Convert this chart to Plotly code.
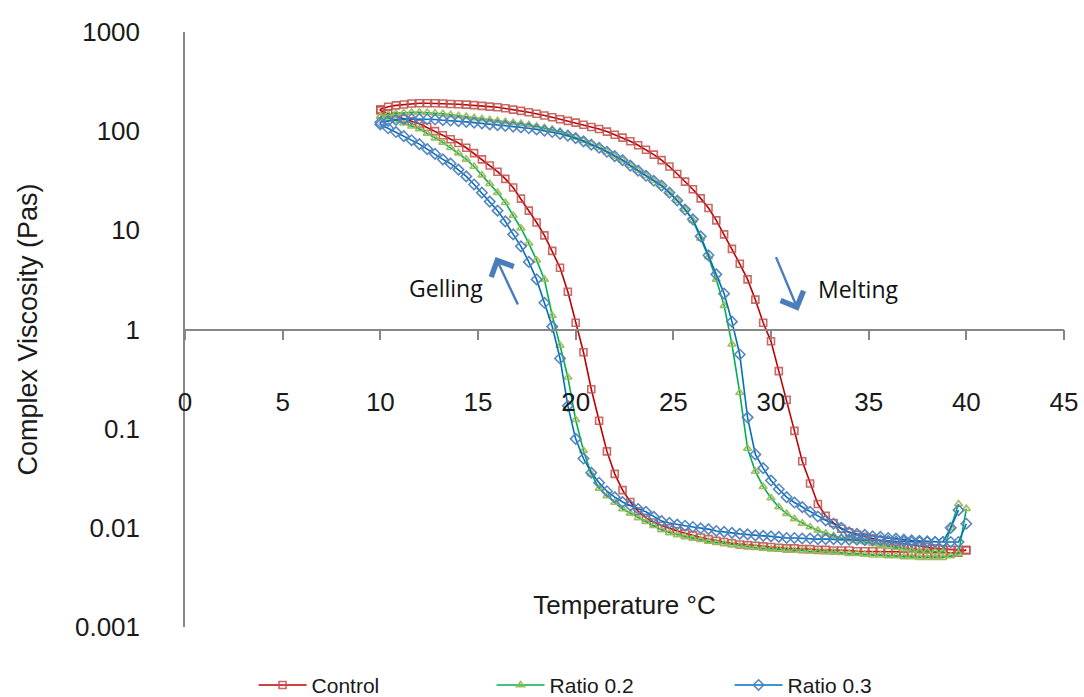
import plotly.graph_objects as go

# Temperature grid of the rheometer sweep (°C): heating ramp and cooling ramp
T_UP = [10.0, 10.4, 10.8, 11.2, 11.6, 12.0, 12.4, 12.8, 13.2, 13.6, 14.0, 14.4, 14.8, 15.2, 15.6,
        16.0, 16.4, 16.8, 17.2, 17.6, 18.0, 18.4, 18.8, 19.2, 19.6, 20.0, 20.4, 20.8, 21.2, 21.6,
        22.0, 22.4, 22.8, 23.2, 23.6, 24.0, 24.4, 24.8, 25.2, 25.6, 26.0, 26.4, 26.8, 27.2, 27.6,
        28.0, 28.4, 28.8, 29.2, 29.6, 30.0, 30.4, 30.8, 31.2, 31.6, 32.0, 32.4, 32.8, 33.2, 33.6,
        34.0, 34.4, 34.8, 35.2, 35.6, 36.0, 36.4, 36.8, 37.2, 37.6, 38.0, 38.4, 38.8, 39.2, 39.6,
        40.0]
T_DOWN = [40.0, 39.6, 39.2, 38.8, 38.4, 38.0, 37.6, 37.2, 36.8, 36.4, 36.0, 35.6, 35.2, 34.8, 34.4,
          34.0, 33.6, 33.2, 32.8, 32.4, 32.0, 31.6, 31.2, 30.8, 30.4, 30.0, 29.6, 29.2, 28.8, 28.4,
          28.0, 27.6, 27.2, 26.8, 26.4, 26.0, 25.6, 25.2, 24.8, 24.4, 24.0, 23.6, 23.2, 22.8, 22.4,
          22.0, 21.6, 21.2, 20.8, 20.4, 20.0, 19.6, 19.2, 18.8, 18.4, 18.0, 17.6, 17.2, 16.8, 16.4,
          16.0, 15.6, 15.2, 14.8, 14.4, 14.0, 13.6, 13.2, 12.8, 12.4, 12.0, 11.6, 11.2, 10.8, 10.4,
          10.0]

# Complex viscosity (Pa·s) on cooling (gelling) and heating (melting)
CONTROL_COOL = [0.0060, 0.0056, 0.0056, 0.0056, 0.0056, 0.0056, 0.0056, 0.0057, 0.0057, 0.0057,
                0.0057, 0.0058, 0.0058, 0.0058, 0.0058, 0.0059, 0.0059, 0.0059, 0.0060, 0.0060,
                0.0061, 0.0061, 0.0062, 0.0062, 0.0063, 0.0064, 0.0065, 0.0066, 0.0067, 0.0068,
                0.0070, 0.0072, 0.0074, 0.0077, 0.0080, 0.0084, 0.0088, 0.0093, 0.0099, 0.0105,
                0.0113, 0.0126, 0.0147, 0.0182, 0.024, 0.035, 0.059, 0.12, 0.25, 0.59,
                1.17, 2.4, 4.2, 6.2, 8.9, 12.0, 15.8, 20.9, 27, 33,
                39, 45, 52, 60, 68, 76, 83, 91, 100, 110,
                119, 126, 133, 141, 151, 162]
CONTROL_HEAT = [166, 176, 182, 186, 190, 191, 191, 191, 190, 188,
                187, 185, 183, 180, 177, 174, 170, 165, 160, 155,
                150, 144, 138, 132, 127, 122, 116, 110, 105, 99,
                92, 86, 79, 72, 65, 58, 51, 44, 37, 31,
                26, 21, 16.8, 12.6, 9.1, 6.5, 4.6, 3.2, 2.0, 1.17,
                0.76, 0.38, 0.195, 0.095, 0.047, 0.028, 0.0174, 0.0132, 0.0112, 0.0098,
                0.0090, 0.0085, 0.0081, 0.0078, 0.0075, 0.0072, 0.0071, 0.0069, 0.0067, 0.0065,
                0.0064, 0.0062, 0.0061, 0.0060, 0.0060, 0.0059]

RATIO02_COOL = [0.0156, 0.0055, 0.0052, 0.0050, 0.0050, 0.0050, 0.0050, 0.0051, 0.0051, 0.0052,
                0.0052, 0.0053, 0.0053, 0.0054, 0.0055, 0.0055, 0.0056, 0.0057, 0.0057, 0.0058,
                0.0058, 0.0059, 0.0059, 0.0060, 0.0061, 0.0061, 0.0062, 0.0063, 0.0064, 0.0066,
                0.0068, 0.0069, 0.0071, 0.0073, 0.0076, 0.0078, 0.0081, 0.0085, 0.0089, 0.0095,
                0.0105, 0.0115, 0.0126, 0.0140, 0.0155, 0.0180, 0.021, 0.025, 0.035, 0.060,
                0.123, 0.33, 0.69, 1.38, 3.2, 5.0, 7.4, 10.5, 14.1, 19,
                24, 29.5, 36, 44, 52, 60, 68, 77, 85, 95,
                105, 112, 120, 129, 135, 141]
RATIO02_HEAT = [141, 148, 151, 153, 155, 155, 154, 152, 150, 146,
                143, 140, 136, 133, 130, 127, 124, 122, 119, 116,
                112, 108, 104, 99, 93, 87, 80, 74, 68, 62,
                56, 51, 45, 40, 35.5, 31.6, 28.2, 24, 20, 16.2,
                12.6, 8.3, 5.4, 3.2, 1.74, 0.71, 0.23, 0.063, 0.037, 0.026,
                0.020, 0.0162, 0.0139, 0.0123, 0.0111, 0.0102, 0.0094, 0.0088, 0.0083, 0.0079,
                0.0077, 0.0074, 0.0072, 0.0069, 0.0067, 0.0065, 0.0063, 0.0061, 0.0059, 0.0058,
                0.0058, 0.0057, 0.0057, 0.010, 0.0174]

RATIO03_COOL = [0.0110, 0.0072, 0.0072, 0.0072, 0.0072, 0.0072, 0.0072, 0.0072, 0.0073, 0.0073,
                0.0074, 0.0075, 0.0075, 0.0075, 0.0076, 0.0076, 0.0076, 0.0077, 0.0077, 0.0077,
                0.0078, 0.0078, 0.0079, 0.0079, 0.0081, 0.0082, 0.0083, 0.0084, 0.0086, 0.0087,
                0.0089, 0.0091, 0.0093, 0.0097, 0.0099, 0.0102, 0.0105, 0.0108, 0.0112, 0.0117,
                0.0129, 0.0145, 0.0155, 0.0168, 0.0182, 0.0204, 0.0234, 0.0285, 0.036, 0.050,
                0.079, 0.17, 0.51, 1.07, 1.86, 3.2, 4.8, 6.9, 9.1, 12.3,
                15.8, 19.5, 24, 29, 35, 41, 47, 52, 59, 66,
                74, 81, 89, 98, 107, 117]
RATIO03_HEAT = [123, 127, 130, 133, 133, 133, 132, 131, 129, 128,
                126, 124, 122, 120, 117, 115, 113, 111, 109, 107,
                104, 101, 98, 94, 90, 85, 79, 73, 68, 62,
                56, 51, 45, 40, 35.5, 31.6, 28.2, 24, 20, 16.2,
                12.9, 8.7, 5.6, 3.6, 2.3, 1.2, 0.56, 0.13, 0.055, 0.040,
                0.030, 0.0245, 0.0204, 0.0180, 0.0162, 0.0145, 0.0130, 0.0119, 0.0110, 0.0100,
                0.0090, 0.0087, 0.0085, 0.0082, 0.0081, 0.0079, 0.0078, 0.0076, 0.0075, 0.0074,
                0.0073, 0.0072, 0.0072, 0.0100, 0.0151]

X_TICKS = [0, 5, 10, 15, 20, 25, 30, 35, 40, 45]
Y_TICKS = [0.001, 0.01, 0.1, 1, 10, 100, 1000]
Y_TICK_TEXT = ["0.001", "0.01", "0.1", "1", "10", "100", "1000"]

AXIS_GREY = "#868686"
TEXT_COLOR = "#1a1a1a"
TEXT_FONT = "Liberation Sans, Arial, sans-serif"

series = [
    ("Control", CONTROL_COOL, CONTROL_HEAT, "#C00000", "rgba(192,80,77,0.85)", "square-open", 7),
    ("Ratio 0.2", RATIO02_COOL, RATIO02_HEAT, "#00B050", "rgba(155,187,89,0.95)", "triangle-up-open", 7),
    ("Ratio 0.3", RATIO03_COOL, RATIO03_HEAT, "#0070C0", "rgba(79,129,189,0.95)", "diamond-open", 8),
]

fig = go.Figure()
for name, cool, heat, line_col, mark_col, symbol, size in series:
    fig.add_trace(go.Scatter(
        x=T_DOWN[:len(cool)] + T_UP[:len(heat)],
        y=cool + heat,
        mode="lines+markers",
        name=name,
        line=dict(color=line_col, width=1.6),
        marker=dict(symbol=symbol, size=size, color=mark_col, line=dict(width=1.6)),
    ))

fig.update_layout(
    width=1084,
    height=697,
    margin=dict(l=185, r=20, t=32, b=70, autoexpand=False),
    paper_bgcolor="white",
    plot_bgcolor="white",
    font=dict(family=TEXT_FONT, color=TEXT_COLOR),
    showlegend=True,
    legend=dict(
        orientation="h",
        x=0.078, y=-0.098, xanchor="left", yanchor="middle",
        font=dict(size=21, family=TEXT_FONT, color=TEXT_COLOR),
        itemwidth=48,
        entrywidth=175,
        bgcolor="rgba(0,0,0,0)",
    ),
    xaxis=dict(
        range=[0, 45],
        tickvals=X_TICKS,
        ticktext=[str(v) for v in X_TICKS],
        showline=True, linecolor=AXIS_GREY, linewidth=1.5,
        ticks="outside", ticklen=10, tickwidth=1.5, tickcolor=AXIS_GREY,
        anchor="free", position=0.5,
        showgrid=False, zeroline=False,
        tickfont=dict(size=26, family=TEXT_FONT, color=TEXT_COLOR),
        ticklabelstandoff=40,
        title=dict(text="Temperature °C", font=dict(size=26, family=TEXT_FONT, color=TEXT_COLOR),
                   standoff=178),
    ),
    yaxis=dict(
        type="log",
        range=[-3, 3],
        tickvals=Y_TICKS,
        ticktext=Y_TICK_TEXT,
        showline=True, linecolor=AXIS_GREY, linewidth=1.5,
        ticks="",
        showgrid=False, zeroline=False,
        tickfont=dict(size=26, family=TEXT_FONT, color=TEXT_COLOR),
        ticklabelstandoff=38,
        title=dict(text="Complex Viscosity (Pas)", font=dict(size=27, family=TEXT_FONT, color=TEXT_COLOR),
                   standoff=30),
    ),
)

ARROW_BLUE = "#4A7EBB"
LABEL_FONT = dict(family="Open Sans, Lato, sans-serif", size=23, color="#111111")

# Process labels with direction arrows
fig.add_annotation(x=13.36, y=0.42, xref="x", yref="y", text="Gelling",
                   showarrow=False, font=LABEL_FONT)
fig.add_annotation(x=34.46, y=0.41, xref="x", yref="y", text="Melting",
                   showarrow=False, font=LABEL_FONT)
fig.add_annotation(x=15.9, y=0.73, xref="x", yref="y", text="",
                   showarrow=True, ax=23, ay=49, axref="pixel", ayref="pixel",
                   arrowhead=4, arrowsize=2.0, arrowwidth=2.4, arrowcolor=ARROW_BLUE)
fig.add_annotation(x=31.4, y=0.19, xref="x", yref="y", text="",
                   showarrow=True, ax=-23, ay=-55, axref="pixel", ayref="pixel",
                   arrowhead=4, arrowsize=2.0, arrowwidth=2.4, arrowcolor=ARROW_BLUE)

fig.write_html("out.html")
